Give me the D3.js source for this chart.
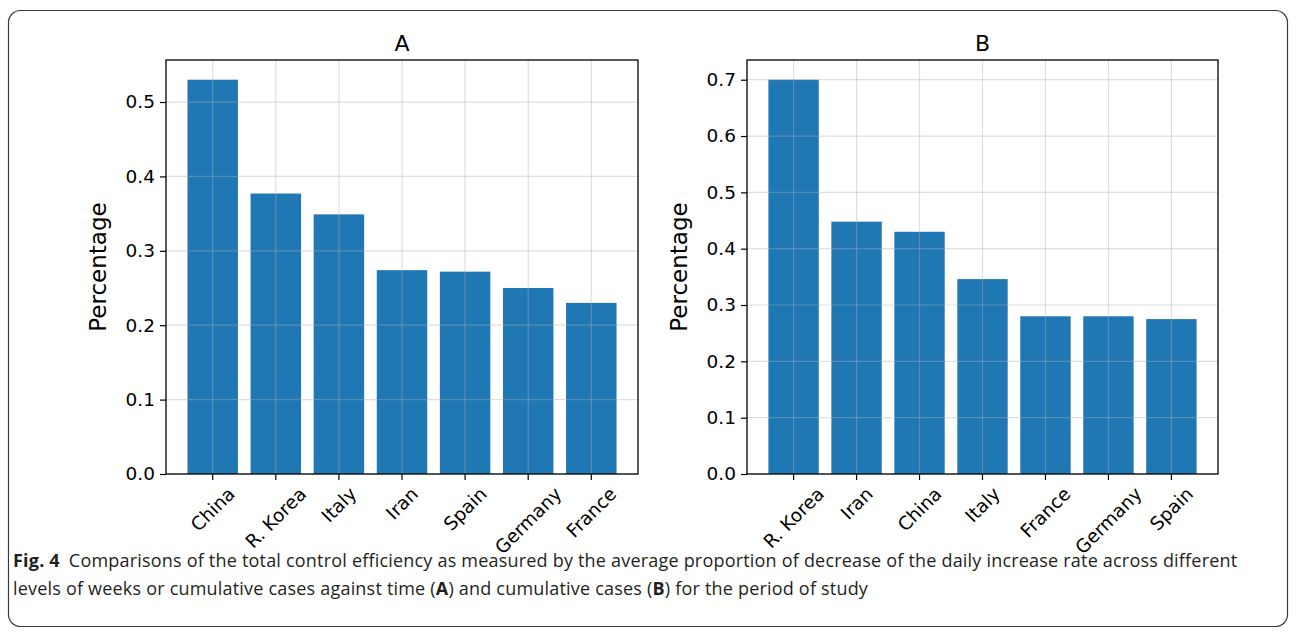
<!doctype html>
<html lang="en">
<head>
    <meta charset="UTF-8">
    <script src="https://cdnjs.cloudflare.com/ajax/libs/d3/7.8.5/d3.min.js"></script>
    <title>Fig. 4</title>
    <style>
        body { margin: 0; background: #fff; }
        svg { display: block; }
    </style>
</head>
<body>

<div id="viz_area"></div>

<script>
    // panel A: against time
    const countriesA = ["China", "R. Korea", "Italy", "Iran", "Spain", "Germany", "France"];
    const valuesA = [0.530, 0.377, 0.349, 0.274, 0.272, 0.250, 0.230];
    const ticksA = [0.0, 0.1, 0.2, 0.3, 0.4, 0.5];

    // panel B: cumulative cases
    const countriesB = ["R. Korea", "Iran", "China", "Italy", "France", "Germany", "Spain"];
    const valuesB = [0.700, 0.448, 0.430, 0.346, 0.280, 0.280, 0.275];
    const ticksB = [0.0, 0.1, 0.2, 0.3, 0.4, 0.5, 0.6, 0.7];

    const captionLines = [
        "Comparisons of the total control efficiency as measured by the average proportion of decrease of the daily increase rate across different",
        "levels of weeks or cumulative cases against time (A) and cumulative cases (B) for the period of study"
    ];

    const W = 1296, H = 634;
    const mplFont = "'DejaVu Sans', sans-serif";

    const svg = d3.select('#viz_area')
        .append("svg")
        .attr("width", W)
        .attr("height", H);

    // rounded figure box
    svg.append("rect")
        .attr("x", 8.5).attr("y", 10.5)
        .attr("width", 1279).attr("height", 616)
        .attr("rx", 12)
        .attr("fill", "none")
        .attr("stroke", "#3a3a3a")
        .attr("stroke-width", 1.2);

    function drawPanel(frame, cats, vals, ticks, title) {
        const g = svg.append("g");

        const x = d3.scaleBand()
            .domain(cats)
            .range([frame.left, frame.right])
            .paddingInner(0.2)
            .paddingOuter(0.34);

        const y = d3.scaleLinear()
            .domain([0, d3.max(vals) * 1.05])
            .range([frame.bottom, frame.top]);

        // bars
        g.selectAll("rect.bar")
            .data(vals)
            .join("rect")
            .attr("class", "bar")
            .attr("x", (d, i) => x(cats[i]))
            .attr("y", d => y(d))
            .attr("width", x.bandwidth())
            .attr("height", d => y(0) - y(d))
            .attr("fill", "#1f77b4");

        // grid on top of the bars
        g.selectAll("line.hgrid")
            .data(ticks)
            .join("line")
            .attr("class", "hgrid")
            .attr("x1", frame.left).attr("x2", frame.right)
            .attr("y1", d => y(d)).attr("y2", d => y(d))
            .attr("stroke", "#b0b0b0")
            .attr("stroke-opacity", 0.4)
            .attr("stroke-width", 1.2);

        g.selectAll("line.vgrid")
            .data(cats)
            .join("line")
            .attr("class", "vgrid")
            .attr("x1", d => x(d) + x.bandwidth() / 2)
            .attr("x2", d => x(d) + x.bandwidth() / 2)
            .attr("y1", frame.top).attr("y2", frame.bottom)
            .attr("stroke", "#b0b0b0")
            .attr("stroke-opacity", 0.4)
            .attr("stroke-width", 1.2);

        // y axis
        const yAxis = g.append("g")
            .attr("transform", `translate(${frame.left},0)`)
            .call(d3.axisLeft(y).tickValues(ticks).tickFormat(d3.format(".1f"))
                .tickSize(6).tickPadding(5));
        yAxis.select(".domain").remove();
        yAxis.selectAll("text")
            .attr("font-family", mplFont)
            .attr("font-size", 18.5)
            .attr("fill", "#000");
        yAxis.selectAll("line").attr("stroke", "#000").attr("stroke-width", 1.2);

        // x axis ticks
        const xAxis = g.append("g")
            .attr("transform", `translate(0,${frame.bottom})`)
            .call(d3.axisBottom(x).tickSize(6).tickFormat(""));
        xAxis.select(".domain").remove();
        xAxis.selectAll("line").attr("stroke", "#000").attr("stroke-width", 1.2);

        // rotated x labels, centred on the tick like matplotlib
        const fs = 18.5;
        const labs = g.selectAll("g.xlab")
            .data(cats)
            .join("g")
            .attr("class", "xlab");
        labs.append("text")
            .attr("font-family", mplFont)
            .attr("font-size", fs)
            .attr("text-anchor", "middle")
            .attr("dy", "0.35em")
            .attr("transform", "rotate(-45)")
            .text(d => d);
        labs.attr("transform", function(d) {
            const w = d3.select(this).select("text").node().getComputedTextLength();
            const half = (w + fs * 1.0) * Math.SQRT1_2 / 2;
            const cx = x(d) + x.bandwidth() / 2;
            const cy = frame.bottom + 6 + 4 + half;
            return `translate(${cx},${cy})`;
        });

        // frame
        g.append("rect")
            .attr("x", frame.left).attr("y", frame.top)
            .attr("width", frame.right - frame.left)
            .attr("height", frame.bottom - frame.top)
            .attr("fill", "none")
            .attr("stroke", "#000")
            .attr("stroke-width", 1.3);

        // title
        g.append("text")
            .attr("x", (frame.left + frame.right) / 2)
            .attr("y", 51)
            .attr("text-anchor", "middle")
            .attr("font-family", mplFont)
            .attr("font-size", 22)
            .text(title);

        // y label
        g.append("text")
            .attr("transform", `translate(${frame.left - 68},${(frame.top + frame.bottom) / 2}) rotate(-90)`)
            .attr("text-anchor", "middle")
            .attr("dy", "0.35em")
            .attr("font-family", mplFont)
            .attr("font-size", 23)
            .text("Percentage");
    }

    drawPanel({left: 166, top: 60, right: 638, bottom: 474}, countriesA, valuesA, ticksA, "A");
    drawPanel({left: 747, top: 60, right: 1218, bottom: 474}, countriesB, valuesB, ticksB, "B");

    // caption
    const capFont = "'Open Sans', 'Noto Sans', sans-serif";
    const capSize = 18;
    const cap1 = svg.append("text")
        .attr("x", 13).attr("y", 567)
        .attr("font-family", capFont)
        .attr("font-size", capSize)
        .attr("letter-spacing", 0.2)
        .attr("fill", "#231f20");
    cap1.append("tspan").attr("font-weight", "bold").text("Fig. 4");
    cap1.append("tspan").attr("dx", 9).text(captionLines[0]);

    const cap2 = svg.append("text")
        .attr("x", 13).attr("y", 595)
        .attr("font-family", capFont)
        .attr("font-size", capSize)
        .attr("letter-spacing", 0.2)
        .attr("fill", "#231f20");
    // bold panel letters inside the second line
    const parts = captionLines[1].split(/(\(A\)|\(B\))/);
    parts.forEach(p => {
        if (p === "(A)" || p === "(B)") {
            cap2.append("tspan").text("(");
            cap2.append("tspan").attr("font-weight", "bold").text(p[1]);
            cap2.append("tspan").text(")");
        } else {
            cap2.append("tspan").text(p);
        }
    });
</script>
</body>
</html>
